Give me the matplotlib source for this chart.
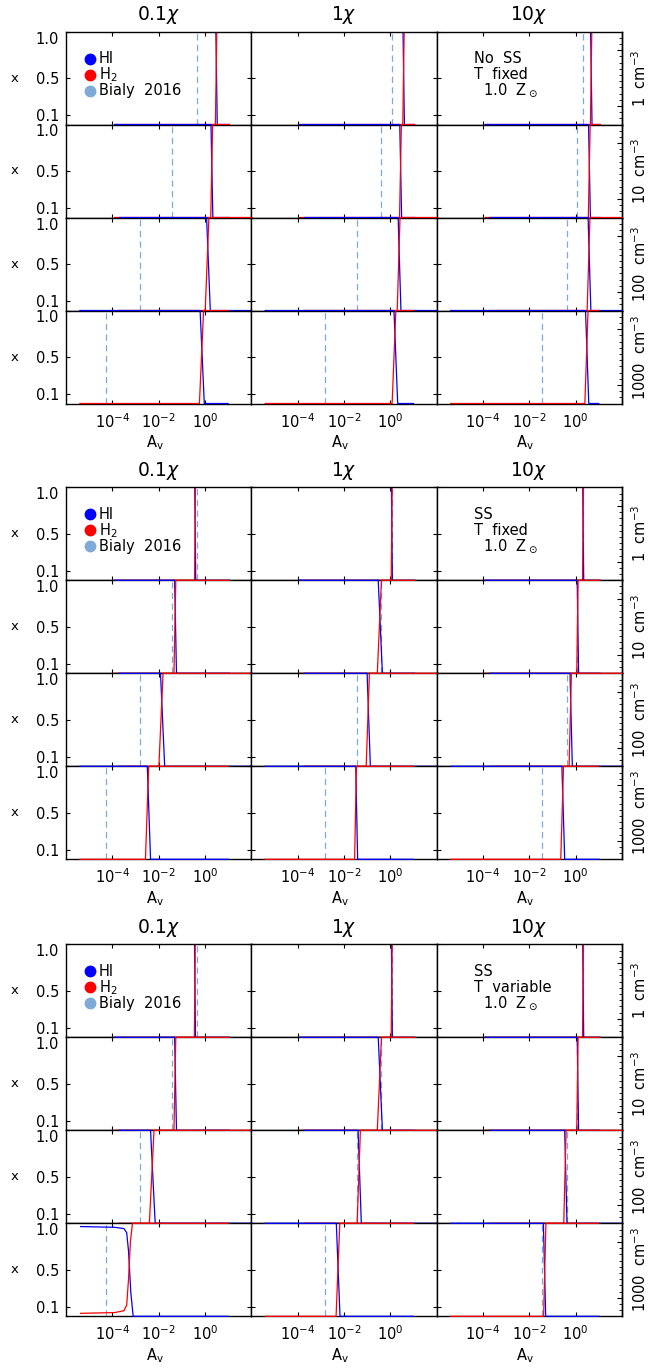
import matplotlib
matplotlib.use("Agg")
import matplotlib.pyplot as plt
import numpy as np

W, H = 648, 1371

chi_labels = ["0.1$\\chi$", "1$\\chi$", "10$\\chi$"]
dens_labels = ["1  cm$^{-3}$", "10  cm$^{-3}$", "100  cm$^{-3}$", "1000  cm$^{-3}$"]
model_labels = [["No  SS", "T  fixed", "  1.0  Z$_\\odot$"],
                ["SS", "T  fixed", "  1.0  Z$_\\odot$"],
                ["SS", "T  variable", "  1.0  Z$_\\odot$"]]
xtick_labels = ["$10^{-4}$", "$10^{-2}$", "$10^{0}$"]
ytick_labels = ["0.1", "0.5", "1.0"]

# log10(Av) range covered by each density row
av_start = [-3.9, -3.9, -3.7, -5.4]
av_end = [1.05, 1.05, 2.0, 1.0]

# Bialy 2016 transition column, log10(Av), [density][chi]
bialy = [[-0.35, 0.06, 0.30],
         [-1.42, -0.39, 0.07],
         [-2.82, -1.43, -0.39],
         [-4.27, -2.83, -1.44]]

# half-crossing of HI and H2 curves, log10(Av), [density][chi]
hi_noss_tfix = [[0.50, 0.58, 0.68], [0.30, 0.45, 0.60], [0.15, 0.40, 0.60], [-0.12, 0.24, 0.50]]
h2_noss_tfix = [[0.48, 0.57, 0.67], [0.29, 0.44, 0.59], [0.09, 0.36, 0.56], [-0.15, 0.16, 0.47]]
w_noss_tfix = [[0.03, 0.03, 0.03], [0.04, 0.04, 0.04], [0.08, 0.06, 0.06], [0.09, 0.08, 0.07]]

hi_ss_tfix = [[-0.42, 0.07, 0.33], [-1.27, -0.43, 0.10], [-1.83, -0.93, -0.19], [-2.42, -1.45, -0.53]]
h2_ss_tfix = [[-0.43, 0.06, 0.32], [-1.30, -0.47, 0.08], [-1.90, -0.97, -0.23], [-2.50, -1.50, -0.58]]
w_ss_tfix = [[0.02, 0.02, 0.02], [0.04, 0.09, 0.03], [0.09, 0.07, 0.05], [0.07, 0.04, 0.06]]

hi_ss_tvar = [[-0.43, 0.07, 0.33], [-1.27, -0.43, 0.10], [-2.25, -1.32, -0.42], [-3.22, -2.25, -1.34]]
h2_ss_tvar = [[-0.44, 0.06, 0.32], [-1.30, -0.47, 0.08], [-2.30, -1.36, -0.46], [-3.28, -2.26, -1.33]]
w_ss_tvar = [[0.02, 0.02, 0.02], [0.04, 0.09, 0.03], [0.10, 0.07, 0.05], [0.10, 0.08, 0.05]]

# 1000 cm^-3, 0.1 chi, SS + T variable: slow drift before the transition
sp_hi_x = [-5.37, -3.9, -3.5, -3.38, -3.3, -3.2, -3.1, 1.0]
sp_hi_y = [0.965, 0.957, 0.943, 0.9, 0.7, 0.25, 0.0, 0.0]
sp_h2_x = [-5.37, -3.9, -3.5, -3.38, -3.3, -3.22, -3.13, 1.0]
sp_h2_y = [0.032, 0.04, 0.06, 0.12, 0.4, 0.8, 1.0, 1.0]

hi_all = [hi_noss_tfix, hi_ss_tfix, hi_ss_tvar]
h2_all = [h2_noss_tfix, h2_ss_tfix, h2_ss_tvar]
w_all = [w_noss_tfix, w_ss_tfix, w_ss_tvar]

BLUE = "#0000ff"
RED = "#ff0000"
LBLUE = "#7eaad6"

block_tops = [31.5, 487.3, 944.3]
row_h = 93.0
col_left = [66.0, 251.3, 436.6]
col_w = 185.3

plt.rcParams["font.family"] = ["DejaVu Sans"]
plt.rcParams["mathtext.fontset"] = "dejavusans"

fig = plt.figure(figsize=(W / 100, H / 100), dpi=100)


def fx(x):
    return x / W


def fy(y):
    return 1 - y / H


for b in range(3):
    top = block_tops[b]
    for r in range(4):
        for c in range(3):
            y0 = top + (r + 1) * row_h
            ax = fig.add_axes([fx(col_left[c]), fy(y0), col_w / W, row_h / H])
            ax.set_xscale("log")
            ax.set_xlim(1e-6, 1e2)
            ax.set_ylim(0, 1)
            for s in ax.spines.values():
                s.set_linewidth(1.0)
                s.set_color("black")

            # top row: lines sit under the frame; lower rows: drawn over the shared frame
            if r == 0:
                z, clip = 2, True
            else:
                z, clip = 3, False

            ax.axvline(10 ** bialy[r][c], color=LBLUE, lw=0.9, dashes=(5, 3.5), zorder=1.5)

            if b == 2 and r == 3 and c == 0:
                hx, hy = sp_hi_x, sp_hi_y
                rx, ry = sp_h2_x, sp_h2_y
            else:
                t1 = hi_all[b][r][c]
                t2 = h2_all[b][r][c]
                w = w_all[b][r][c]
                s0, s1 = av_start[r], av_end[r]
                hx = [s0, t1 - w, t1 + w, s1]
                hy = [1, 1, 0, 0]
                rx = [s0, t2 - w, t2 + w, s1]
                ry = [0, 0, 1, 1]
            ax.plot(10 ** np.array(hx), hy, color=BLUE, lw=0.9, zorder=z, clip_on=clip)
            ax.plot(10 ** np.array(rx), ry, color=RED, lw=0.9, zorder=z + 0.1, clip_on=clip)

            ax.set_xticks([1e-4, 1e-2, 1e0])
            ax.xaxis.set_minor_locator(matplotlib.ticker.NullLocator())
            ax.set_yticks([0.1, 0.5, 1.0])
            ax.tick_params(direction="in", length=3.2, width=0.8, top=True, right=True,
                           labelsize=10.5, pad=5)
            if r == 3:
                ax.set_xticklabels(xtick_labels)
                ax.tick_params(axis="x", pad=6)
            else:
                ax.set_xticklabels([])
            if c == 0:
                ax.set_yticklabels(ytick_labels)
                ax.yaxis.get_major_ticks()[2].label1.set_verticalalignment("top")
                fig.text(fx(15), fy(y0 - row_h * 0.5), "x", fontsize=9.5,
                         ha="center", va="center")
            else:
                ax.set_yticklabels([])

            if c == 2:
                ax.tick_params(axis="y", right=False)
                sec = ax.secondary_yaxis("right")
                sec.set_yticks([0.2, 0.8])
                sec.set_yticks(np.arange(1, 15) / 15, minor=True)
                sec.tick_params(which="major", direction="in", length=3.5, width=0.8,
                                labelright=False)
                sec.tick_params(which="minor", direction="in", length=2.0, width=0.6)
                sec.set_yticklabels([])
                sec.spines["right"].set_linewidth(1.0)
                fig.text(fx(640), fy(y0 - row_h * 0.5), dens_labels[r], rotation=90,
                         fontsize=10.5, ha="center", va="center")

            if r == 0 and c == 0:
                for k, (col, lab) in enumerate(zip([BLUE, RED, LBLUE],
                                                   ["HI", "H$_2$", "Bialy  2016"])):
                    yy = top + 27 + 16 * k
                    fig.lines.append(matplotlib.lines.Line2D(
                        [fx(90)], [fy(yy)], marker="o", ms=7.5, color=col, lw=0,
                        transform=fig.transFigure))
                    fig.text(fx(99), fy(yy), lab, fontsize=10.5, ha="left", va="center")

            if r == 0 and c == 2:
                for k, lab in enumerate(model_labels[b]):
                    fig.text(fx(474), fy(top + 27 + 16 * k), lab, fontsize=10.5,
                             ha="left", va="center")

            if r == 0:
                fig.text(fx(col_left[c] + col_w / 2), fy(top - 16), chi_labels[c],
                         fontsize=13.5, ha="center", va="center")
            if r == 3:
                fig.text(fx(col_left[c] + col_w / 2 - 4), fy(y0 + 39), "A$_\\mathrm{v}$",
                         fontsize=10.5, ha="center", va="center")

fig.savefig("out.png", dpi=100)
